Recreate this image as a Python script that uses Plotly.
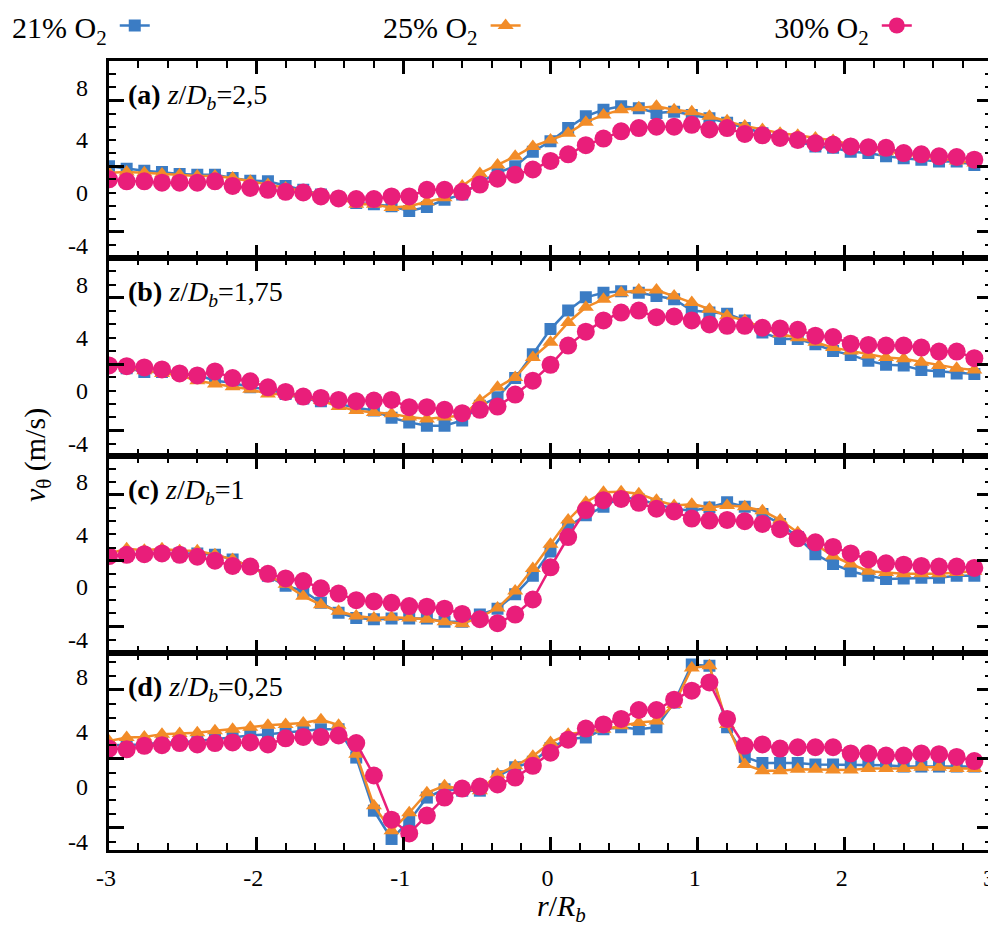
import plotly.graph_objects as go

# ---------------- data ----------------
X = [-3.00, -2.88, -2.76, -2.64, -2.52, -2.40, -2.28, -2.16, -2.04, -1.92,
     -1.80, -1.68, -1.56, -1.44, -1.32, -1.20, -1.08, -0.96, -0.84, -0.72,
     -0.60, -0.48, -0.36, -0.24, -0.12, 0.00, 0.12, 0.24, 0.36, 0.48,
     0.60, 0.72, 0.84, 0.96, 1.08, 1.20, 1.32, 1.44, 1.56, 1.68,
     1.80, 1.92, 2.04, 2.16, 2.28, 2.40, 2.52, 2.64, 2.76, 2.88]

SERIES_NAMES = ["21% O<sub>2</sub>", "25% O<sub>2</sub>", "30% O<sub>2</sub>"]
PANEL_LABELS = ["(a)", "(b)", "(c)", "(d)"]
PANEL_Z = ["2,5", "1,75", "1", "0,25"]
Y_TICK_LABELS = [-4, 0, 4, 8]
X_TICKS = [-3, -2, -1, 0, 1, 2, 3]

# (a) z/Db = 2,5
A21 = [2.0, 1.8, 1.65, 1.55, 1.4, 1.35, 1.35, 1.1, 0.9, 0.85,
       0.5, 0.2, -0.15, -0.4, -0.8, -0.9, -1.05, -1.4, -1.1, -0.55,
       -0.15, 0.75, 1.5, 2.0, 3.1, 3.9, 4.9, 5.8, 6.3, 6.55,
       6.4, 6.05, 6.15, 5.9, 5.65, 5.3, 4.9, 4.5, 4.15, 3.9,
       3.5, 3.4, 3.1, 3.0, 2.75, 2.6, 2.5, 2.35, 2.35, 2.1]
A25 = [1.5, 1.55, 1.5, 1.4, 1.35, 1.25, 1.25, 1.1, 0.85, 0.6,
       0.35, 0.1, -0.15, -0.4, -0.9, -0.9, -1.15, -1.05, -0.7, -0.4,
       0.5, 1.45, 2.1, 2.75, 3.5, 4.0, 4.5, 5.35, 5.9, 6.3,
       6.45, 6.55, 6.3, 6.15, 5.8, 5.45, 5.05, 4.8, 4.5, 4.35,
       4.15, 3.95, 3.65, 3.4, 3.1, 2.9, 2.75, 2.6, 2.4, 2.25]
A30 = [1.0, 0.85, 0.85, 0.75, 0.75, 0.75, 0.85, 0.5, 0.35, 0.2,
       0.05, 0.0, -0.3, -0.45, -0.5, -0.5, -0.3, -0.3, 0.2, 0.2,
       0.05, 0.6, 1.05, 1.35, 1.75, 2.4, 2.9, 3.6, 4.1, 4.65,
       4.9, 5.0, 5.0, 5.15, 4.8, 4.9, 4.45, 4.35, 4.15, 4.0,
       3.75, 3.65, 3.5, 3.45, 3.4, 3.0, 2.9, 2.75, 2.7, 2.5]

# (b) z/Db = 1,75
B21 = [1.9, 1.7, 1.4, 1.4, 1.25, 1.2, 0.75, 0.6, 0.25, 0.1,
       -0.25, -0.6, -0.8, -1.0, -1.3, -1.5, -2.05, -2.4, -2.65, -2.65,
       -2.25, -1.15, -0.5, 0.95, 2.75, 4.65, 6.05, 7.05, 7.4, 7.5,
       7.4, 7.15, 6.9, 6.05, 5.9, 5.8, 5.3, 4.4, 3.9, 3.9,
       3.5, 3.0, 2.7, 2.25, 1.95, 1.9, 1.55, 1.45, 1.3, 1.25]
B25 = [1.9, 1.7, 1.5, 1.3, 1.15, 0.75, 0.5, 0.3, 0.1, -0.25,
       -0.25, -0.5, -0.75, -1.2, -1.5, -1.65, -1.75, -2.0, -2.15, -2.0,
       -1.9, -0.75, 0.25, 1.0, 2.5, 3.65, 5.15, 6.3, 6.9, 7.4,
       7.6, 7.6, 7.15, 6.65, 6.15, 5.65, 5.3, 4.75, 4.3, 4.0,
       3.65, 3.25, 3.0, 2.7, 2.5, 2.4, 2.15, 1.9, 1.7, 1.55]
B30 = [1.9, 1.85, 1.75, 1.6, 1.3, 1.15, 1.45, 0.95, 0.7, 0.25,
       -0.1, -0.45, -0.55, -0.7, -0.8, -0.75, -0.7, -1.25, -1.25, -1.45,
       -1.7, -1.45, -1.2, -0.3, 0.75, 1.95, 3.4, 4.45, 5.3, 5.9,
       6.05, 5.55, 5.6, 5.3, 5.0, 4.9, 4.9, 4.75, 4.7, 4.6,
       4.15, 4.05, 3.55, 3.45, 3.4, 3.4, 3.25, 2.95, 2.95, 2.45]

# (c) z/Db = 1
C21 = [2.35, 2.45, 2.55, 2.55, 2.55, 2.55, 2.45, 2.1, 1.55, 0.85,
       0.1, -0.3, -1.2, -1.95, -2.35, -2.45, -2.4, -2.4, -2.4, -2.65,
       -2.65, -2.1, -1.65, -0.55, 0.85, 2.7, 4.6, 5.45, 6.1, 6.85,
       6.65, 6.3, 5.95, 5.8, 6.05, 6.45, 6.1, 5.55, 4.8, 3.8,
       2.5, 1.75, 1.2, 0.85, 0.6, 0.65, 0.7, 0.7, 0.85, 0.85]
C25 = [2.55, 2.9, 2.8, 2.9, 2.75, 2.75, 2.45, 2.1, 1.55, 0.85,
       0.2, -0.7, -1.35, -1.85, -2.2, -2.35, -2.3, -2.35, -2.45, -2.65,
       -2.8, -2.3, -1.6, -0.3, 1.4, 3.25, 5.1, 6.45, 7.2, 7.25,
       7.1, 6.6, 6.2, 6.3, 6.05, 6.2, 6.1, 5.8, 5.1, 4.15,
       3.25, 2.35, 1.75, 1.2, 1.1, 1.0, 1.0, 1.0, 1.1, 1.2]
C30 = [2.35, 2.45, 2.5, 2.55, 2.45, 2.3, 2.0, 1.6, 1.55, 1.0,
       0.65, 0.45, -0.1, -0.5, -1.0, -1.1, -1.2, -1.45, -1.5, -1.65,
       -2.05, -2.45, -2.75, -2.1, -0.95, 1.5, 3.8, 5.85, 6.6, 6.7,
       6.4, 5.95, 5.75, 5.2, 5.05, 5.1, 5.0, 4.8, 4.4, 3.7,
       3.4, 3.05, 2.55, 2.1, 1.8, 1.7, 1.6, 1.55, 1.55, 1.45]

# (d) z/Db = 0,25
D21 = [3.0, 3.05, 3.05, 3.2, 3.2, 3.3, 3.45, 3.55, 3.7, 3.8,
       3.9, 4.05, 4.15, 4.15, 2.1, -1.75, -3.8, -2.5, -0.8, -0.2,
       -0.3, -0.3, 0.75, 1.4, 1.8, 2.8, 3.45, 3.55, 4.15, 4.3,
       4.15, 4.3, 6.1, 8.85, 8.75, 4.3, 2.15, 1.7, 1.7, 1.7,
       1.6, 1.6, 1.6, 1.55, 1.55, 1.45, 1.45, 1.45, 1.45, 1.45]
D25 = [3.3, 3.55, 3.6, 3.8, 3.85, 3.9, 4.05, 4.15, 4.3, 4.45,
       4.5, 4.6, 4.85, 4.45, 2.35, -1.4, -3.2, -1.9, -0.45, 0.05,
       -0.2, -0.3, 0.9, 1.5, 2.2, 3.2, 3.8, 3.95, 4.15, 4.4,
       4.65, 4.75, 5.95, 8.6, 8.75, 4.5, 1.6, 1.15, 1.15, 1.25,
       1.25, 1.2, 1.2, 1.3, 1.3, 1.3, 1.4, 1.4, 1.3, 1.3]
D30 = [2.75, 2.7, 2.95, 3.0, 3.15, 3.05, 3.15, 3.2, 3.2, 3.05,
       3.5, 3.6, 3.6, 3.7, 3.15, 0.8, -2.4, -3.4, -2.1, -0.8,
       -0.15, 0.0, 0.15, 0.65, 1.5, 2.45, 3.4, 4.2, 4.5, 4.9,
       5.55, 5.55, 6.3, 6.95, 7.55, 4.9, 2.95, 3.05, 2.75, 2.85,
       2.85, 2.85, 2.4, 2.4, 2.25, 2.25, 2.4, 2.35, 2.15, 1.85]

PANEL_DATA = [(A21, A25, A30), (B21, B25, B30), (C21, C25, C30), (D21, D25, D30)]

# ---------------- styles ----------------
FONT = '"Liberation Serif", "Times New Roman", Times, Tinos, "DejaVu Serif", serif'
COLORS = ["#3B7CC4", "#F28C28", "#E91E7A"]
SYMBOLS = ["square", "triangle-up", "circle"]
MSIZES = [12, 14, 18]
YRANGES = [[-5, 10], [-4.9, 10], [-5, 10], [-4.6, 9.7]]
LEGEND_X = [-0.112, 0.308, 0.751]

fig = go.Figure()

for i, series in enumerate(PANEL_DATA):
    xa = "x" if i == 0 else f"x{i + 1}"
    ya = "y" if i == 0 else f"y{i + 1}"
    for j, vals in enumerate(series):
        leg = "legend" if j == 0 else f"legend{j + 1}"
        fig.add_trace(go.Scatter(
            x=X, y=vals, xaxis=xa, yaxis=ya,
            mode="lines+markers",
            name="\u00a0",
            legend=leg,
            showlegend=(i == 0),
            line=dict(color=COLORS[j], width=2.5),
            marker=dict(symbol=SYMBOLS[j], size=MSIZES[j], color=COLORS[j],
                        line=dict(width=0)),
        ))
    # helper trace so that the tick-label overlay axis exists
    fig.add_trace(go.Scatter(x=[], y=[], xaxis=xa, yaxis=f"y{i + 5}",
                             showlegend=False, hoverinfo="skip"))

layout = dict(
    width=996, height=929,
    margin=dict(l=101, r=12, t=53, b=87, autoexpand=False),
    paper_bgcolor="white", plot_bgcolor="white",
    font=dict(family=FONT, size=24, color="black"),
    showlegend=True,
)

for i in range(4):
    xk = "xaxis" if i == 0 else f"xaxis{i + 1}"
    yk = "yaxis" if i == 0 else f"yaxis{i + 1}"
    xa = "x" if i == 0 else f"x{i + 1}"
    ya = "y" if i == 0 else f"y{i + 1}"
    top = 1 - 0.25 * i
    layout[xk] = dict(
        domain=[0, 1], anchor=ya, range=[-3, 3],
        tickmode="array", tickvals=X_TICKS, ticktext=[str(v) for v in X_TICKS],
        showticklabels=(i == 3),
        ticks="inside", ticklen=13, tickwidth=3, tickcolor="black",
        minor=dict(tickmode="linear", tick0=-3, dtick=0.2, ticks="inside",
                   ticklen=7, tickwidth=1.5, tickcolor="black"),
        showline=True, linewidth=3, linecolor="black", mirror="ticks",
        showgrid=False, zeroline=False,
        ticklabelstandoff=4, ticklabelshift=-3,
        tickfont=dict(family=FONT, size=24, color="black"),
    )
    if i > 0:
        layout[xk]["matches"] = "x"
    layout[yk] = dict(
        domain=[top - 0.25, top], anchor=xa, range=YRANGES[i],
        tickmode="array", tickvals=[-3, 2, 7], showticklabels=False,
        ticks="inside", ticklen=15, tickwidth=3, tickcolor="black",
        minor=dict(tickmode="linear", tick0=0, dtick=1, ticks="inside",
                   ticklen=7, tickwidth=1.5, tickcolor="black"),
        showline=True, linewidth=3, linecolor="black", mirror="ticks",
        showgrid=False, zeroline=False,
    )
    layout[f"yaxis{i + 5}"] = dict(
        overlaying=ya, anchor=xa, side="left", range=YRANGES[i],
        tickmode="array", tickvals=Y_TICK_LABELS,
        ticktext=[str(v) for v in Y_TICK_LABELS],
        ticks="", showline=False, showgrid=False, zeroline=False,
        ticklabelstandoff=20,
        tickfont=dict(family=FONT, size=24, color="black"),
    )

for j in range(3):
    key = "legend" if j == 0 else f"legend{j + 1}"
    layout[key] = dict(
        title=dict(text=SERIES_NAMES[j], side="left",
                   font=dict(family=FONT, size=30, color="black")),
        x=LEGEND_X[j], xanchor="left", y=1.045, yanchor="middle",
        orientation="h", bgcolor="rgba(0,0,0,0)", borderwidth=0,
        valign="middle",
        font=dict(family=FONT, size=30, color="black"), itemwidth=30,
    )

annotations = []
for i in range(4):
    ya = "y" if i == 0 else f"y{i + 1}"
    annotations.append(dict(
        xref="paper", yref=f"{ya} domain", x=0.019, y=0.82,
        xanchor="left", yanchor="middle", showarrow=False,
        text=f"<b>{PANEL_LABELS[i]}</b> <i>z</i>/<i>D</i><sub><i>b</i></sub>={PANEL_Z[i]}",
        font=dict(family=FONT, size=28, color="black"),
    ))
annotations.append(dict(
    xref="paper", yref="paper", x=-0.082, y=0.5, textangle=-90,
    xanchor="center", yanchor="middle", showarrow=False,
    text="<i>v</i><sub>θ</sub> (m/s)",
    font=dict(family=FONT, size=30, color="black"),
))
annotations.append(dict(
    xref="paper", yref="paper", x=0.512, y=-0.074,
    xanchor="center", yanchor="middle", showarrow=False,
    text="<i>r</i>/<i>R</i><sub><i>b</i></sub>",
    font=dict(family=FONT, size=30, color="black"),
))
layout["annotations"] = annotations

fig.update_layout(**layout)
fig.write_html("out.html")
